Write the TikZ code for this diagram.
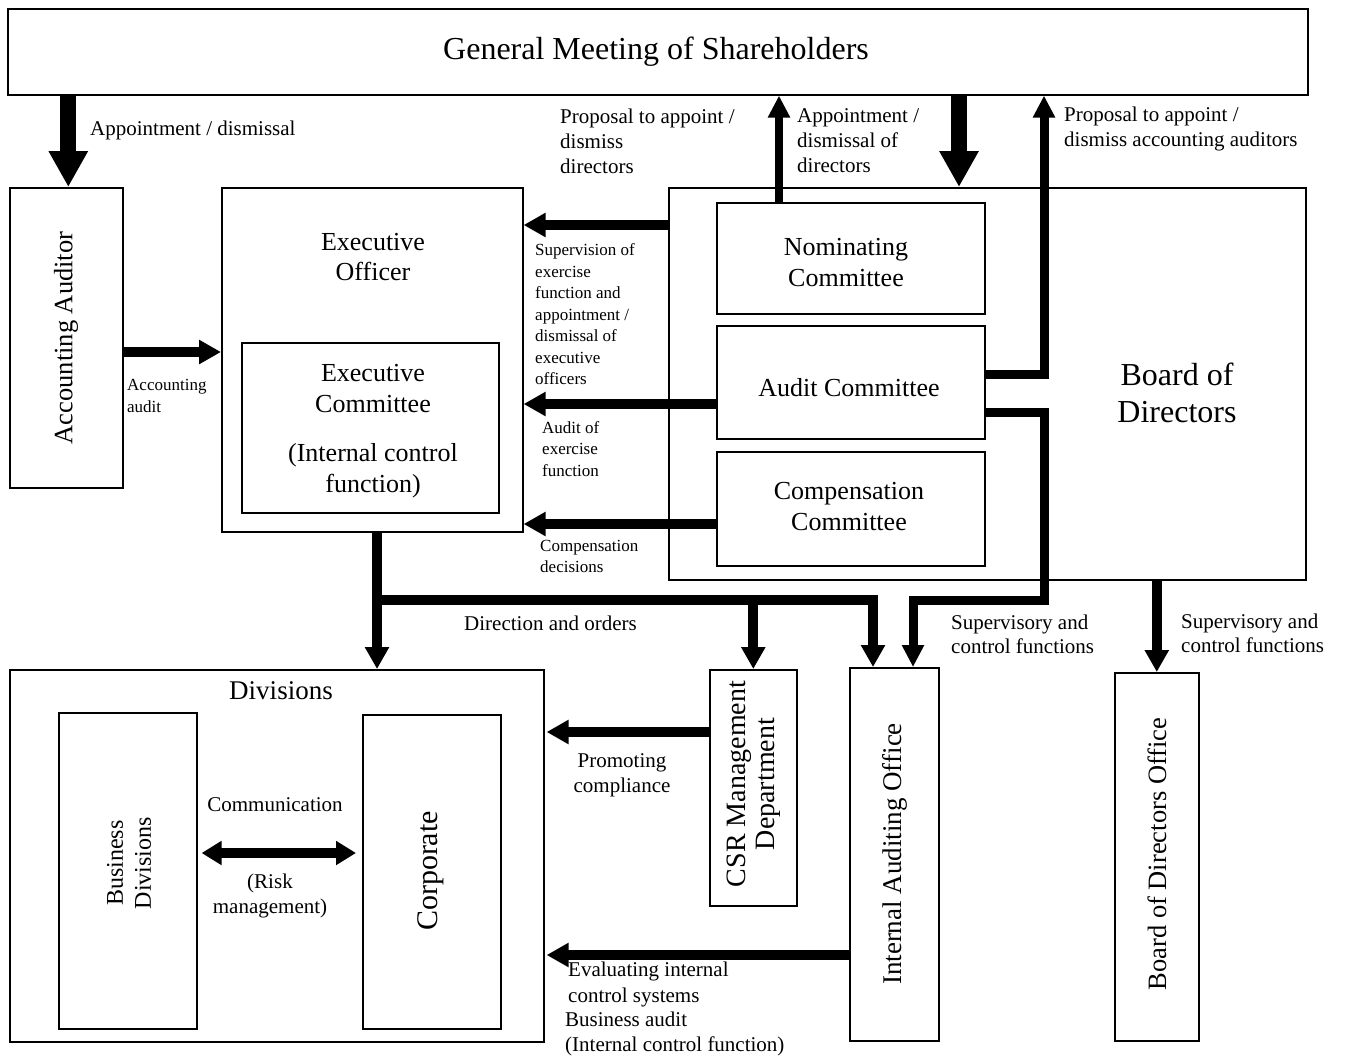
\documentclass[tikz,border=0pt]{standalone}
\usepackage{fontspec}
\setmainfont{Liberation Serif}
\usetikzlibrary{arrows.meta}
\begin{document}
\begin{tikzpicture}[x=1pt,y=-1pt,
  box/.style={draw, line width=1.6pt, inner sep=0pt, anchor=north west},
  lbl/.style={inner sep=0pt, align=left, anchor=west},
  ctr/.style={inner sep=0pt, align=center},
  fA/.style={font={\fontsize{21}{25}\selectfont}},
  fS/.style={font={\fontsize{17}{21.5}\selectfont}},
  fB/.style={font={\fontsize{26}{31}\selectfont}},
  bigar/.style={line width=16pt, -{Triangle[length=36pt,width=37pt]}},
  midar/.style={line width=10pt, -{Triangle[length=22pt,width=23pt]}},
  thinar/.style={line width=8pt, -{Triangle[length=22pt,width=21pt]}},
  bar/.style={line width=9pt, line join=miter},
  dirline/.style={line width=10pt, line join=miter, -{Triangle[length=22pt,width=23pt]}}
]
\useasboundingbox (0,0) rectangle (1346,1061);

% boxes
\node[box, minimum width=1300pt, minimum height=86pt] (gms) at (7,8) {};
\node[box, minimum width=113pt, minimum height=300pt] (acc) at (9,187) {};
\node[box, minimum width=301pt, minimum height=344pt] (eo) at (221,187) {};
\node[box, minimum width=257pt, minimum height=170pt] (ec) at (241,342) {};
\node[box, minimum width=637pt, minimum height=392pt] (bod) at (668,187) {};
\node[box, minimum width=268pt, minimum height=111pt] (nom) at (716,202) {};
\node[box, minimum width=268pt, minimum height=113pt] (aud) at (716,325) {};
\node[box, minimum width=268pt, minimum height=114pt] (cmp) at (716,451) {};
\node[box, minimum width=534pt, minimum height=372pt] (div) at (9,669) {};
\node[box, minimum width=138pt, minimum height=316pt] (bus) at (58,712) {};
\node[box, minimum width=138pt, minimum height=314pt] (corp) at (362,714) {};
\node[box, minimum width=87pt, minimum height=236pt] (csr) at (709,669) {};
\node[box, minimum width=89pt, minimum height=373pt] (iao) at (849,667) {};
\node[box, minimum width=84pt, minimum height=368pt] (bdo) at (1114,672) {};

% box texts
\node[ctr, font={\fontsize{32}{37}\selectfont}] (tgms) at (656,52) {General Meeting of Shareholders};
\node[ctr, fB, rotate=90, font={\fontsize{26.5}{31}\selectfont}] (tacc) at (66,338) {Accounting Auditor};
\node[ctr, fB] (teo) at (373,257) {Executive\\[-1pt]Officer};
\node[ctr, fB] (tec) at (373,389) {Executive\\Committee};
\node[ctr, fB] (tic) at (373,471) {(Internal control\\function)};
\node[ctr, fB] (tnom) at (846,263) {Nominating\\Committee};
\node[ctr, fB] (taud) at (849,388) {Audit Committee};
\node[ctr, fB] (tcmp) at (849,507) {Compensation\\Committee};
\node[ctr, font={\fontsize{32}{37}\selectfont}] (tbod) at (1177,393) {Board of\\Directors};
\node[ctr, font={\fontsize{27}{31}\selectfont}] (tdiv) at (281,691) {Divisions};
\node[ctr, rotate=90, font={\fontsize{24}{28}\selectfont}] (tbus) at (129,863) {Business\\Divisions};
\node[ctr, rotate=90, font={\fontsize{30}{34}\selectfont}] (tcorp) at (431,871) {Corporate};
\node[ctr, rotate=90, font={\fontsize{28}{29}\selectfont}] (tcsr) at (754,784) {CSR Management\\Department};
\node[ctr, rotate=90, font={\fontsize{27}{31}\selectfont}] (tiao) at (895,854) {Internal Auditing Office};
\node[ctr, rotate=90, font={\fontsize{26.5}{31}\selectfont}] (tbdo) at (1157,854) {Board of Directors Office};

% coordinates for connector routing
\coordinate (xA) at (959,0);
\coordinate (xN) at (779,0);
\coordinate (xR) at (1044,0);
\coordinate (xI) at (913,0);
\coordinate (xE) at (377,0);
\coordinate (xD) at (873,0);
\coordinate (yAu) at (0,374);
\coordinate (yAl) at (0,412.5);
\coordinate (yH) at (0,600);
\coordinate (yAcc) at (0,352);
\coordinate (ySup) at (0,225);
\coordinate (yAud) at (0,404);
\coordinate (yCmp) at (0,524);
\coordinate (yCsr) at (0,732);
\coordinate (yIao) at (0,955);
\coordinate (yCom) at (0,853);

% connectors
\draw[bigar] ([xshift=2pt]acc.north |- gms.south) -- ([xshift=2pt]acc.north);
\draw[bigar] (xA |- gms.south) -- (xA |- bod.north);
\draw[thinar] (xN |- nom.north) -- (xN |- gms.south);
\draw[bar, -{Triangle[length=22pt,width=21pt]}] (aud.east |- yAu) -| (xR |- gms.south);
\draw[bar, -{Triangle[length=22pt,width=21pt]}] (aud.east |- yAl) -| (xR |- yH) -| (xI |- iao.north);
\draw[midar] (acc.east |- yAcc) -- (eo.west |- yAcc);
\draw[midar] (bod.west |- ySup) -- (eo.east |- ySup);
\draw[midar] (aud.west |- yAud) -- (eo.east |- yAud);
\draw[midar] (cmp.west |- yCmp) -- (eo.east |- yCmp);
\draw[dirline] (xE |- eo.south) -- (xE |- div.north);
\draw[dirline] ([xshift=-5pt]xE |- yH) -| (xD |- iao.north);
\draw[dirline] (csr.north |- yH) -- (csr.north);
\draw[midar] (bod.south -| bdo.north) -- (bdo.north);
\draw[midar] (csr.west |- yCsr) -- ([xshift=2pt]div.east |- yCsr);
\draw[midar] (iao.west |- yIao) -- ([xshift=2pt]div.east |- yIao);
\draw[line width=10pt, {Triangle[length=20pt,width=23pt]}-{Triangle[length=20pt,width=23pt]}, shorten <=4pt, shorten >=6pt] (bus.east |- yCom) -- (corp.west |- yCom);

% connector labels
\node[lbl, fA] (l1) at (90,130) {Appointment / dismissal};
\node[lbl, fS] (l2) at (127,396) {Accounting\\audit};
\node[lbl, fA] (l3) at (560,141) {Proposal to appoint /\\dismiss\\directors};
\node[lbl, fA] (l4) at (797,141) {Appointment /\\dismissal of\\directors};
\node[lbl, fA] (l5) at (1064,129) {Proposal to appoint /\\dismiss accounting auditors};
\node[lbl, fS] (l6) at (535,314.5) {Supervision of\\exercise\\function and\\appointment /\\dismissal of\\executive\\officers};
\node[lbl, fS] (l7) at (542,449) {Audit of\\exercise\\function};
\node[lbl, fS] (l8) at (540,556.5) {Compensation\\decisions};
\node[lbl, fA] (l9) at (464,623) {Direction and orders};
\node[lbl, fA, font={\fontsize{21}{24}\selectfont}] (l10) at (951,634) {Supervisory and\\control functions};
\node[lbl, fA, font={\fontsize{21}{24}\selectfont}] (l11) at (1181,633) {Supervisory and\\control functions};
\node[ctr, fA] (l12) at (275,805) {Communication};
\node[ctr, fA] (l13) at (270,896) {(Risk\\management)};
\node[ctr, fA] (l14) at (622,775) {Promoting\\compliance};
\node[lbl, fA, font={\fontsize{21}{26}\selectfont}] (l15) at (568,984) {Evaluating internal\\control systems};
\node[lbl, fA] (l16) at (565,1033.5) {Business audit\\(Internal control function)};
\end{tikzpicture}
\end{document}
